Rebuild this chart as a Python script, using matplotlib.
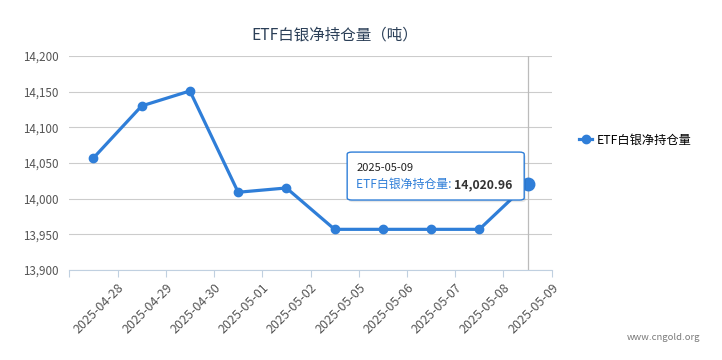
"""ETF silver net holdings line chart (cngold style)."""

import matplotlib

matplotlib.use("Agg")
import matplotlib.pyplot as plt
from matplotlib.lines import Line2D
from matplotlib.patches import FancyBboxPatch
import numpy as np

plt.rcParams["font.family"] = ["Noto Sans CJK SC", "DejaVu Sans"]

dates = [
    "2025-04-28", "2025-04-29", "2025-04-30", "2025-05-01", "2025-05-02",
    "2025-05-05", "2025-05-06", "2025-05-07", "2025-05-08", "2025-05-09",
]
holdings = [14057, 14130, 14151, 14009, 14015, 13957, 13957, 13957, 13957, 14020.96]
yticks = [13900, 13950, 14000, 14050, 14100, 14150, 14200]

series_name = "ETF白银净持仓量"
title = "ETF白银净持仓量（吨）"
line_color = "#2f7ed8"

fig = plt.figure(figsize=(7.22, 3.6), dpi=100)
ax = fig.add_axes([69.3 / 722, 1 - 270 / 360, 482.4 / 722, 214 / 360])

x = np.arange(len(dates))
ax.plot(x, holdings, color=line_color, lw=2.3, marker="o", ms=6, zorder=3,
        solid_joinstyle="round")
ax.plot(x[-1], holdings[-1], marker="o", ms=9, color=line_color, zorder=4)

ax.set_xlim(-0.5, len(dates) - 0.5)
ax.set_ylim(yticks[0], yticks[-1])
ax.set_yticks(yticks)
ax.set_yticklabels([f"{v:,}" for v in yticks])
ax.grid(axis="y", color="#cccccc", lw=0.8)
ax.set_axisbelow(True)

ax.set_xticks(np.arange(len(dates) + 1) - 0.5)
ax.set_xticklabels([""] + dates, rotation=45, ha="right", rotation_mode="anchor")
ax.tick_params(axis="x", length=5, color="#c0d0e0", labelsize=9, labelcolor="#555555", pad=3)
ax.tick_params(axis="y", length=0, labelsize=8.4, labelcolor="#555555", pad=8)

for side in ("top", "right", "left"):
    ax.spines[side].set_visible(False)
ax.spines["bottom"].set_color("#c0d0e0")

# hover pointer line on last point
ax.axvline(x[-1], color="#bbbbbb", lw=0.9, zorder=2)

# tooltip
box = FancyBboxPatch((0.576, 0.327), 0.367, 0.224, boxstyle="round,pad=0,rounding_size=0.01",
                     transform=ax.transAxes, facecolor="white", edgecolor=line_color,
                     lw=1.0, zorder=5)
shadow = FancyBboxPatch((0.579, 0.317), 0.367, 0.224, boxstyle="round,pad=0,rounding_size=0.01",
                        transform=ax.transAxes, facecolor="#00000018", edgecolor="none", zorder=4.9)
ax.add_patch(shadow)
ax.add_patch(box)
ax.text(0.595, 0.477, dates[-1], transform=ax.transAxes, fontsize=8, color="#222222",
        va="center", zorder=6)
label = ax.text(0.595, 0.40, f"{series_name}: ", transform=ax.transAxes, fontsize=8.6,
                color=line_color, va="center", zorder=6)
ax.annotate(f"{holdings[-1]:,.2f}", xy=(1, 0.5), xycoords=label, va="center", ha="left",
            fontsize=8.8, fontweight="bold", color="#333333", zorder=6)

fig.text(335 / 722, 1 - 35 / 360, title, ha="center", va="center", fontsize=11.2, color="#2b3f57")

handle = Line2D([], [], color=line_color, lw=2.3, marker="o", ms=6)
fig.legend([handle], [series_name], loc="center left", bbox_to_anchor=(568 / 722, 1 - 140 / 360),
           frameon=False, fontsize=8.8, handlelength=1.1, handletextpad=0.35)

fig.text(700 / 722, 1 - 338 / 360, "www.cngold.org", ha="right", va="center", fontsize=6.8,
         color="#7a7a7a")

fig.savefig("out.png", dpi=100)
